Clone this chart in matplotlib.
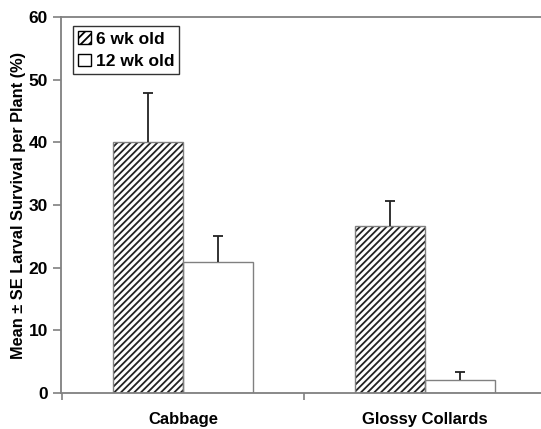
import numpy as np
import matplotlib.pyplot as plt

plt.rcParams['font.family'] = ['Liberation Sans', 'DejaVu Sans']
plt.rcParams['font.weight'] = 'bold'
plt.rcParams['hatch.linewidth'] = 1.3

categories = ['Cabbage', 'Glossy Collards']
series_names = ['6 wk old', '12 wk old']
means_6wk = [40.0, 26.6]
se_6wk = [7.8, 4.0]
means_12wk = [20.9, 2.1]
se_12wk = [4.1, 1.2]

fig = plt.figure(figsize=(5.41, 4.29), dpi=100)
ax = fig.add_axes([0.1128, 0.0839, 0.8872, 0.8765])

x = np.arange(len(categories))
w = 0.29
edge = '#808080'

# hatched fill in black, outline drawn separately in gray
ax.bar(x - w / 2, means_6wk, w, color='white', edgecolor='#222222', hatch='/////',
       linewidth=0, zorder=2)
ax.bar(x - w / 2, means_6wk, w, fill=False, edgecolor=edge, linewidth=1.0,
       zorder=2.5)
ax.bar(x + w / 2, means_12wk, w, color='white', edgecolor=edge,
       linewidth=1.0, zorder=2)

for xs, m, e in [(x - w / 2, means_6wk, se_6wk), (x + w / 2, means_12wk, se_12wk)]:
    eb = ax.errorbar(xs, m, yerr=[np.zeros(len(m)), e], fmt='none',
                     ecolor='#222222', elinewidth=1.3, capsize=3.5,
                     capthick=1.3, zorder=3)
    eb[1][0].set_visible(False)

ax.set_xlim(-0.504, 1.479)
ax.set_ylim(0, 60)
ax.set_yticks([0, 10, 20, 30, 40, 50, 60])
ax.set_xticks(x)
ax.set_xticklabels(categories)
ax.set_xticks([-0.5, 0.5], minor=True)
ax.tick_params(axis='x', which='major', length=0, pad=14, labelsize=12)
ax.tick_params(axis='x', which='minor', length=5, width=1.2, color=edge)
ax.tick_params(axis='y', length=6, width=1.2, color=edge, labelsize=12.5)

for s in ['left', 'bottom', 'top']:
    ax.spines[s].set_color(edge)
    ax.spines[s].set_linewidth(1.3)
ax.spines['right'].set_visible(False)

ax.set_ylabel('Mean \u00b1 SE Larval Survival per Plant (%)', fontsize=11.8,
              fontweight='bold', labelpad=2)

# legend handles built from the same style as the bars
h6 = plt.Rectangle((0, 0), 1, 1, facecolor='white', edgecolor='black',
                   hatch='////', linewidth=1.0)
h12 = plt.Rectangle((0, 0), 1, 1, facecolor='white', edgecolor='black',
                    linewidth=1.0)
leg = ax.legend([h6, h12], series_names, loc='upper left',
                bbox_to_anchor=(0.018, 0.985), fontsize=12.5,
                frameon=True, fancybox=False, edgecolor='black',
                handlelength=0.75, handleheight=0.75, handletextpad=0.25,
                borderpad=0.3, labelspacing=0.4, borderaxespad=0.2)
leg.get_frame().set_linewidth(1.0)

fig.savefig('out.png', dpi=100)
